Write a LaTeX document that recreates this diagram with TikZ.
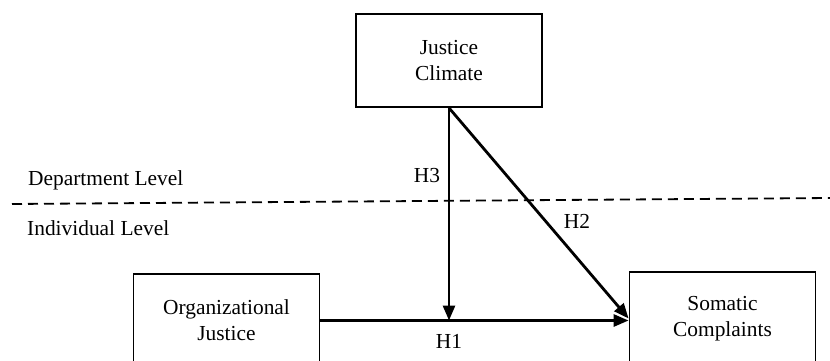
\documentclass[tikz,border=0pt]{standalone}
\usepackage{fontspec}
\setmainfont{Liberation Serif}
\usetikzlibrary{arrows.meta}
\begin{document}
\begin{tikzpicture}[x=1pt,y=-1pt,
  box/.style={draw,line width=1.8pt,minimum width=186pt,minimum height=93pt,inner sep=0pt,align=center,font=\fontsize{21.4}{25.7}\selectfont},
  lbl/.style={inner sep=0pt,font=\fontsize{21.4}{25.7}\selectfont},
  arr/.style={line width=2.8pt,-{Triangle[length=15pt,width=12pt]}}]
\useasboundingbox (0,0) rectangle (830,360);
\clip (0,0) rectangle (830,360);
\fill[white] (0,0) rectangle (830,360);
\node[box] (jc) at (449,60.5) {Justice\\Climate};
\node[box] (oj) at (226.5,320.5) {Organizational\\Justice};
\node[box] (sc) at (722.5,318.5) {Somatic\\Complaints};
\coordinate (dl) at (12,204);
\coordinate (dr) at (830,198);
\draw[line width=1.8pt,dash pattern=on 10pt off 6pt] (dl) -- (dr);
\node[lbl,anchor=base west] (dept) at (28,185) {Department Level};
\node[lbl,anchor=base west] (indiv) at (27,235) {Individual Level};
\coordinate (meet) at (jc.south |- oj.east);
\draw[arr] (oj.east) -- (oj.east -| sc.west);
\draw[arr] (jc.south) -- (meet);
\draw[arr] (jc.south) -- (sc.west);
\node[lbl,anchor=base] (h3) at (427,182) {H3};
\node[lbl,anchor=base] (h2) at (577,228) {H2};
\node[lbl,anchor=base] (h1) at (449,348) {H1};
\end{tikzpicture}
\end{document}
